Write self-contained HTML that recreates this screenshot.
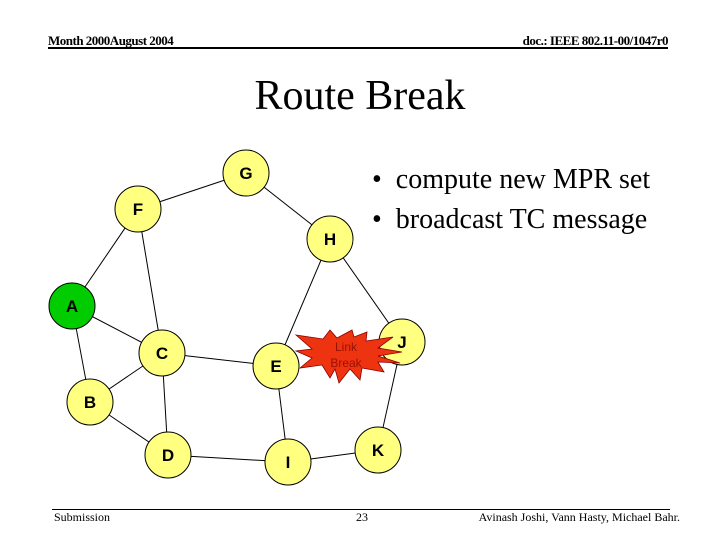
<!DOCTYPE html>
<html><head><style>
body{margin:0;width:720px;height:540px;background:#fff;overflow:hidden;position:relative;font-family:"Liberation Serif",serif}
.t{position:absolute;white-space:nowrap}
</style></head><body>
<div class="t" style="left:48px;top:33px;font-size:13px;font-weight:bold;letter-spacing:-0.5px">Month 2000August 2004</div>
<div class="t" style="right:52px;top:33px;font-size:13px;font-weight:bold;letter-spacing:-0.5px">doc.: IEEE 802.11-00/1047r0</div>
<div style="position:absolute;left:48px;top:47px;width:620px;height:2px;background:#000"></div>
<div class="t" style="left:0;width:720px;text-align:center;top:72px;font-size:42px">Route Break</div>
<div class="t" style="left:372px;top:160px;font-size:28px;line-height:40px">•&nbsp; compute new MPR set<br>•&nbsp; broadcast TC message</div>
<div style="position:absolute;left:52px;top:509px;width:618px;height:1px;background:#000"></div>
<div class="t" style="left:54px;top:510px;font-size:12px">Submission</div>
<div class="t" style="left:356px;top:510px;font-size:12px">23</div>
<div class="t" style="right:40px;top:510px;font-size:12px">Avinash Joshi, Vann Hasty, Michael Bahr.</div>
<svg width="720" height="540" style="position:absolute;left:0;top:0" font-family="Liberation Sans, sans-serif">
<g stroke="#000" stroke-width="1">
<line x1="138" y1="209" x2="246" y2="173"/><line x1="246" y1="173" x2="330" y2="239"/>
<line x1="138" y1="209" x2="72" y2="306"/><line x1="138" y1="209" x2="162" y2="353"/>
<line x1="72" y1="306" x2="162" y2="353"/><line x1="72" y1="306" x2="90" y2="402"/>
<line x1="90" y1="402" x2="162" y2="353"/><line x1="90" y1="402" x2="168" y2="455"/>
<line x1="162" y1="353" x2="168" y2="455"/><line x1="162" y1="353" x2="276" y2="366"/>
<line x1="330" y1="239" x2="276" y2="366"/><line x1="330" y1="239" x2="402" y2="342"/>
<line x1="276" y1="366" x2="288" y2="462"/><line x1="168" y1="455" x2="288" y2="462"/>
<line x1="288" y1="462" x2="378" y2="450"/><line x1="378" y1="450" x2="402" y2="342"/>
</g>
<g stroke="#000" stroke-width="1" fill="#ffff80">
<circle cx="246" cy="173" r="23"/><circle cx="138" cy="209" r="23"/><circle cx="330" cy="239" r="23"/>
<circle cx="72" cy="306" r="23" fill="#00cc00"/><circle cx="162" cy="353" r="23"/><circle cx="276" cy="366" r="23"/>
<circle cx="402" cy="342" r="23"/><circle cx="90" cy="402" r="23"/><circle cx="168" cy="455" r="23"/>
<circle cx="288" cy="462" r="23"/><circle cx="378" cy="450" r="23"/>
</g>
<polygon fill="#ee3311" stroke="#800" stroke-width="0.8" points="296,335 323,339 330,330 337,338 352,330 354,337 367,332 366,341 393,337 378,348 402,352 378,356 400,363 378,362 384,372 362,368 360,380 350,369 339,383 335,369 330,378 322,365 300,368 312,358 296,351 312,349"/>
<g font-weight="bold" font-size="17" text-anchor="middle">
<text x="246" y="179">G</text><text x="138" y="215">F</text><text x="330" y="245">H</text>
<text x="72" y="312">A</text><text x="162" y="359">C</text><text x="276" y="372">E</text>
<text x="402" y="348">J</text><text x="90" y="408">B</text><text x="168" y="461">D</text>
<text x="288" y="468">I</text><text x="378" y="456">K</text>
</g>
<g font-size="12" fill="#991100" text-anchor="middle"><text x="346" y="351">Link</text><text x="346" y="367">Break</text></g>
</svg>
</body></html>
